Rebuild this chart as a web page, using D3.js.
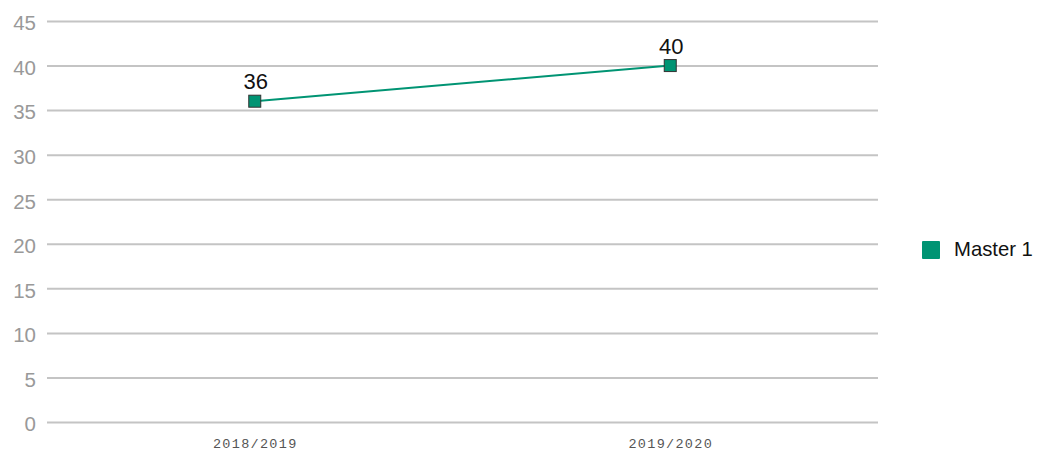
<!DOCTYPE html>
<html><head><meta charset="utf-8">
<script src="https://cdn.jsdelivr.net/npm/d3@7"></script>
<style>body{margin:0;background:#fff}svg{display:block}</style>
</head><body>
<script>
const categories = ["2018/2019", "2019/2020"];
const seriesName = "Master 1";
const values = [36, 40];
const yTicks = [0, 5, 10, 15, 20, 25, 30, 35, 40, 45];

const W = 1037, H = 458;
const color = "#009473";
const svg = d3.select("body").append("svg").attr("width", W).attr("height", H);

const x = d3.scalePoint().domain(categories).range([47, 878]).padding(0.5);
const y = d3.scaleLinear().domain([0, 45]).range([422, 21]);

const g = svg.append("g");
const yAxis = d3.axisLeft(y).tickValues(yTicks).tickSize(-(878 - 47)).tickPadding(10);
const ya = g.append("g").attr("transform", "translate(47,0)").call(yAxis);
ya.select(".domain").remove();
ya.selectAll(".tick line").attr("stroke", "#c4c4c4").attr("stroke-width", 2);
ya.selectAll(".tick text").attr("fill", "#999").attr("font-family", "Liberation Sans, Arial, sans-serif").attr("font-size", 20.5).attr("x", -11).attr("dy", "0.43em");

const xAxis = d3.axisBottom(x).tickSize(0).tickPadding(14);
const xa = g.append("g").attr("transform", "translate(0,422)").call(xAxis);
xa.select(".domain").remove();
xa.selectAll(".tick text").attr("fill", "#555").attr("font-family", "Liberation Mono, monospace").attr("font-size", 13.5).attr("letter-spacing", 1.3).attr("y", 16);

const line = d3.line().x((d, i) => x(categories[i])).y(d => y(d));
g.append("path").datum(values).attr("d", line).attr("fill", "none").attr("stroke", color).attr("stroke-width", 2);

const s = 12;
g.selectAll("rect.pt").data(values).join("rect").attr("class", "pt")
  .attr("x", (d, i) => x(categories[i]) - s / 2).attr("y", d => y(d) - s / 2)
  .attr("width", s).attr("height", s).attr("fill", color).attr("stroke", "#333").attr("stroke-width", 1);

g.selectAll("text.lbl").data(values).join("text").attr("class", "lbl")
  .attr("x", (d, i) => x(categories[i]) + 1).attr("y", d => y(d) - 12)
  .attr("text-anchor", "middle").attr("font-family", "Liberation Sans, Arial, sans-serif").attr("font-size", 22).attr("fill", "#111")
  .text(d => d);

const lg = svg.append("g").attr("transform", "translate(922,241)");
lg.append("rect").attr("width", 18).attr("height", 18).attr("rx", 1).attr("fill", color);
lg.append("text").attr("x", 32).attr("y", 15).attr("font-family", "Liberation Sans, Arial, sans-serif").attr("font-size", 20.3).attr("fill", "#111").text(seriesName);
</script>
</body></html>
